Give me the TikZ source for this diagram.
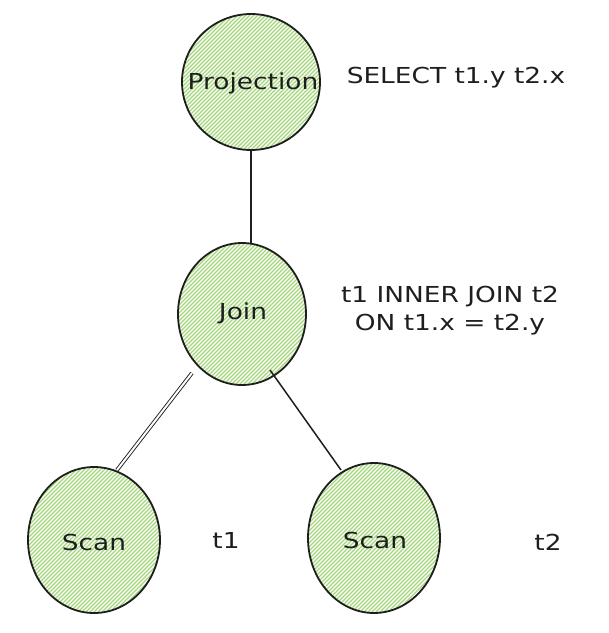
\documentclass[tikz,border=0pt]{standalone}
\usepackage{fontspec}
\newfontfamily\hand[FakeStretch=1.2]{DejaVu Sans}
\definecolor{ink}{HTML}{1E1E1E}
\definecolor{hach}{HTML}{A3D67A}
\begin{document}
\begin{tikzpicture}[x=1pt,y=-1pt,
  lbl/.style={font=\hand\fontsize{22}{27}\selectfont, text=ink, inner sep=0pt},
  circ/.style={draw=ink, line width=1.8pt},
  conn/.style={draw=ink, line width=1.5pt}]
\useasboundingbox (0,0) rectangle (609,633);
% node shapes: name, cx, cy, rx, ry
\foreach \n/\cx/\cy/\rx/\ry in {proj/251/82/69/68, join/242/314/64/71, scanA/94/540/66/73, scanB/374/538/66/75}{
  \begin{scope}
    \clip (\cx,\cy) ellipse [x radius=\rx, y radius=\ry];
    \foreach \k in {-160,-156,...,160}{
      \draw[hach, line width=1.3pt] (\cx+\k-100,\cy+100) -- (\cx+\k+100,\cy-100);
    }
  \end{scope}
  \draw[circ] (\cx,\cy) ellipse [x radius=\rx, y radius=\ry];
}
\node[lbl] (proj) at (253,83) {Projection};
\node[lbl] (join) at (243,313) {Join};
\node[lbl] (scanA) at (94,542) {Scan};
\node[lbl] (scanB) at (375,540) {Scan};
\coordinate (p1) at (251,150);
\coordinate (j0) at (251,243);
\coordinate (j1) at (192,373);
\coordinate (s1) at (117,470);
\coordinate (j2) at (270,370);
\coordinate (s2) at (341,470);
\draw[conn] (p1) -- (j0);
\draw[draw=ink, line width=0.9pt, double=white, double distance=2pt] (j1) -- (s1);
\draw[conn] (j2) -- (s2);
\node[lbl] (selt) at (456,78) {SELECT t1.y t2.x};
\node[lbl, align=center] (joint) at (450,311) {t1 INNER JOIN t2\\[1pt]ON t1.x = t2.y};
\node[lbl] (t1) at (226,540) {t1};
\node[lbl] (t2) at (548,542) {t2};
\end{tikzpicture}
\end{document}
